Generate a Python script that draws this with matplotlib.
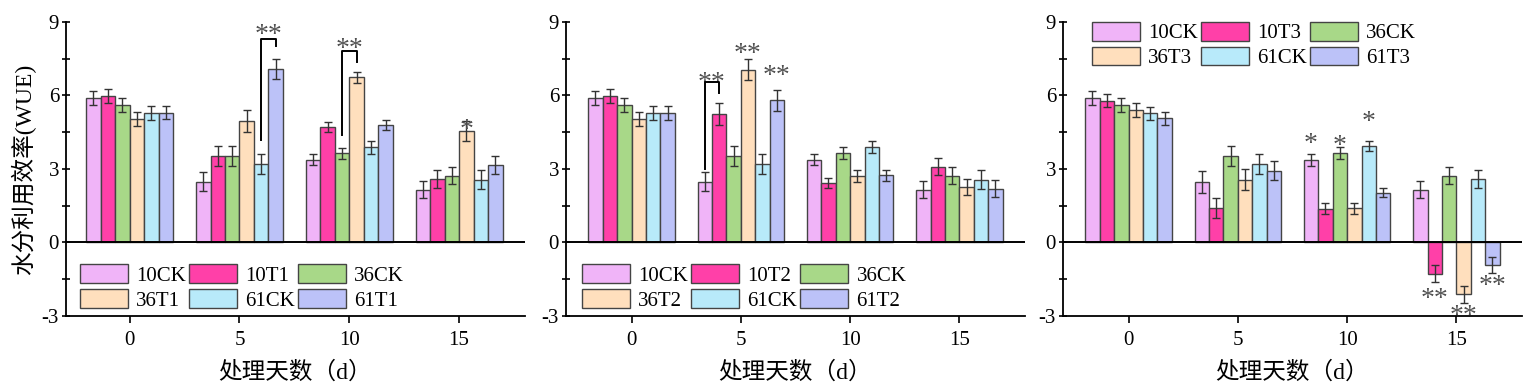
import numpy as np
import matplotlib
matplotlib.use("Agg")
import matplotlib.pyplot as plt

plt.rcParams['font.family'] = ['Liberation Serif', 'Noto Sans CJK SC']
plt.rcParams['axes.unicode_minus'] = False

days = [0, 5, 10, 15]
colors = ['#F0B4F8', '#FF40A8', '#A8D888', '#FFDFBD', '#B8EAFA', '#BCC2F8']

# panel 1: T1
t1_labels = ['10CK', '10T1', '36CK', '36T1', '61CK', '61T1']
t1_mean = [[5.91, 2.48, 3.37, 2.15],
           [5.98, 3.53, 4.70, 2.59],
           [5.60, 3.53, 3.64, 2.72],
           [5.05, 4.97, 6.74, 4.54],
           [5.27, 3.20, 3.88, 2.56],
           [5.30, 7.08, 4.81, 3.16]]
t1_err = [[0.28, 0.40, 0.22, 0.34],
          [0.28, 0.40, 0.20, 0.35],
          [0.28, 0.40, 0.23, 0.34],
          [0.28, 0.45, 0.23, 0.40],
          [0.28, 0.40, 0.26, 0.38],
          [0.28, 0.40, 0.20, 0.35]]

# panel 2: T2
t2_labels = ['10CK', '10T2', '36CK', '36T2', '61CK', '61T2']
t2_mean = [[5.90, 2.48, 3.37, 2.15],
           [5.97, 5.23, 2.43, 3.09],
           [5.60, 3.53, 3.64, 2.72],
           [5.05, 7.06, 2.72, 2.26],
           [5.27, 3.20, 3.90, 2.56],
           [5.27, 5.80, 2.74, 2.19]]
t2_err = [[0.28, 0.40, 0.22, 0.34],
          [0.28, 0.45, 0.22, 0.34],
          [0.28, 0.40, 0.25, 0.34],
          [0.28, 0.41, 0.24, 0.34],
          [0.28, 0.40, 0.25, 0.38],
          [0.28, 0.43, 0.22, 0.34]]

# panel 3: T3
t3_labels = ['10CK', '10T3', '36CK', '36T3', '61CK', '61T3']
t3_mean = [[5.90, 2.48, 3.37, 2.15],
           [5.78, 1.40, 1.38, -1.28],
           [5.61, 3.53, 3.64, 2.72],
           [5.40, 2.56, 1.40, -2.11],
           [5.27, 3.20, 3.94, 2.59],
           [5.07, 2.93, 2.03, -0.93]]
t3_err = [[0.29, 0.45, 0.23, 0.34],
          [0.27, 0.42, 0.22, 0.35],
          [0.28, 0.40, 0.24, 0.34],
          [0.28, 0.42, 0.23, 0.35],
          [0.27, 0.40, 0.20, 0.35],
          [0.27, 0.40, 0.19, 0.33]]

# significance marks: (day, bar index, glyph center y, text)
t1_stars = [(5, 4.5, 8.77, '**'), (10, 2.5, 8.16, '**'), (15, 3, 4.89, '*')]
t2_stars = [(5, 0.5, 6.80, '**'), (5, 3, 7.96, '**'), (5, 5, 7.07, '**')]
t3_stars = [(10, 0, 4.32, '*'), (10, 2, 4.21, '*'), (10, 4, 5.19, '*'),
            (15, 1, -2.03, '**'), (15, 3, -2.71, '**'), (15, 5, -1.51, '**')]
# brackets: (day, left bar, right bar, top, left bottom, right bottom)
t1_brackets = [(5, 4, 5, 8.30, 4.20, 8.00), (10, 2, 3, 7.80, 4.37, 7.35)]
t2_brackets = [(5, 0, 1, 6.53, 2.98, 6.12)]
t3_brackets = []

panels = [
    (t1_labels, t1_mean, t1_err, t1_stars, t1_brackets, (0.03, 0.175), -2.9),
    (t2_labels, t2_mean, t2_err, t2_stars, t2_brackets, (0.035, 0.175), -3.0),
    (t3_labels, t3_mean, t3_err, t3_stars, t3_brackets, (0.063, 1.0), -3.0),
]
lefts = [0.043, 0.3687, 0.6925]

w = 0.66
fig = plt.figure(figsize=(15.35, 3.9), dpi=100)

for k, (labels, mean, err, stars, brackets, leg_pos, xmin) in enumerate(panels):
    ax = fig.add_axes([lefts[k], 0.19, 0.299, 0.7536])
    x = np.array(days, dtype=float)
    handles = []
    for i in range(6):
        b = ax.bar(x + (i - 2.5) * w, mean[i], w, color=colors[i], edgecolor='#444444',
                   linewidth=1.0, label=labels[i], zorder=2)
        handles.append(b)
        ax.errorbar(x + (i - 2.5) * w, mean[i], yerr=err[i], fmt='none',
                    ecolor='#333333', elinewidth=1.0, capsize=3, capthick=1.0, zorder=3)
    ax.axhline(0, color='black', lw=1.4, zorder=4)

    for d, idx, yc, s in stars:
        ax.annotate(s, xy=(d + (idx - 2.5) * w, yc), xytext=(0, -10),
                    textcoords='offset points', ha='center', va='baseline',
                    fontsize=20, color='#505050', zorder=5)
    for d, i, j, top, lb, rb in brackets:
        xl = d + (i - 2.5) * w
        xr = d + (j - 2.5) * w
        ax.plot([xl, xl, xr, xr], [lb, top, top, rb], color='black', lw=1.4, zorder=5)

    ax.set_xlim(xmin, 18)
    ax.set_ylim(-3, 9)
    ax.set_xticks(days)
    ax.set_yticks([-3, 0, 3, 6, 9])
    ax.set_yticks([-1.5, 1.5, 4.5, 7.5], minor=True)
    ax.tick_params(axis='y', which='both', direction='inout', length=6, width=1.2,
                   labelsize=15, pad=2)
    ax.tick_params(axis='x', direction='out', length=5, width=1.2, labelsize=15, pad=6)
    for side in ['top', 'right']:
        ax.spines[side].set_visible(False)
    for side in ['left', 'bottom']:
        ax.spines[side].set_linewidth(1.3)
    ax.set_xlabel('处理天数（d）', fontsize=17, labelpad=8)
    if k == 0:
        ax.set_ylabel('水分利用效率(WUE)', fontsize=17, labelpad=4)

    # row-wise legend order for 3 columns
    order = [0, 3, 1, 4, 2, 5]
    ax.legend([handles[o] for o in order], [labels[o] for o in order],
              loc='upper left', bbox_to_anchor=leg_pos, ncol=3, frameon=False,
              fontsize=15, handlelength=2.3, handleheight=1.0, handletextpad=0.4,
              columnspacing=0.15, labelspacing=0.15, borderpad=0, borderaxespad=0)

fig.savefig('out.png', dpi=100)
